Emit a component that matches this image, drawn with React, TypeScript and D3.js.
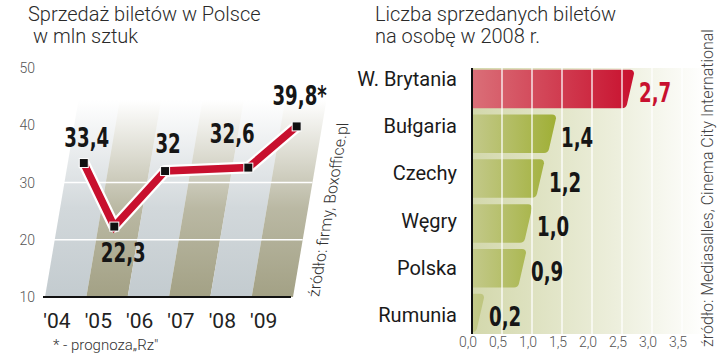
import { useEffect, useRef } from 'react'
import * as d3 from 'd3'

// left chart: ticket sales in Poland, mln
const years = ["'04", "'05", "'06", "'07", "'08", "'09"]
const sales: (number | null)[] = [33.4, 22.3, 32, null, 32.6, 39.8]
const salesMarks = ['', '', '', '', '', '*']
const yTicks = [10, 20, 30, 40, 50]

// right chart: tickets per person, 2008
const countries = ['W. Brytania', 'Bułgaria', 'Czechy', 'Węgry', 'Polska', 'Rumunia']
const perPerson = [2.7, 1.4, 1.2, 1.0, 0.9, 0.2]
const xTicks = [0, 0.5, 1, 1.5, 2, 2.5, 3, 3.5]

export default function App() {
  const svgRef = useRef<SVGSVGElement>(null)

  useEffect(() => {
    const svg = d3.select(svgRef.current)
    svg.selectAll('*').remove()

    const W = 720
    const H = 364
    svg.attr('width', W).attr('height', H)

    const pl = d3.formatLocale({ decimal: ',', thousands: ' ', grouping: [3], currency: ['', ' zł'] })
    const fmtTrim = pl.format('.3~')
    const fmt1 = pl.format('.1f')

    const light = "Roboto, 'Open Sans', sans-serif"
    const bold = "'DejaVu Sans', sans-serif"
    const squeeze = 0.7

    svg.append('rect').attr('width', W).attr('height', H).attr('fill', '#fff')
    const defs = svg.append('defs')

    // ---------- left: line chart ----------
    const axisY = 297
    const skew = 0.17
    const bandTop = 100
    const y = d3.scaleLinear().domain([10, 50]).range([axisY, 68])
    const xb = d3.scaleBand<string>().domain(years).range([45, 293])
    const lift = (py: number) => (axisY - py) * skew

    const bandColors = ['#c3cbcf', '#a3a185']
    bandColors.forEach((c, i) => {
      const g = defs.append('linearGradient')
        .attr('id', `band${i}`)
        .attr('gradientUnits', 'userSpaceOnUse')
        .attr('x1', 0).attr('x2', 0)
        .attr('y1', axisY).attr('y2', bandTop)
      g.append('stop').attr('offset', '0%').attr('stop-color', c).attr('stop-opacity', 1)
      g.append('stop').attr('offset', '45%').attr('stop-color', c).attr('stop-opacity', 0.75)
      g.append('stop').attr('offset', '100%').attr('stop-color', c).attr('stop-opacity', 0)
    })

    const left = svg.append('g')
    left.selectAll('.band')
      .data(years)
      .enter()
      .append('path')
      .attr('class', 'band')
      .attr('fill', (_, i) => `url(#band${i % 2})`)
      .attr('d', (d) => {
        const x0 = xb(d)!
        const x1 = x0 + xb.bandwidth()
        const s = lift(bandTop)
        return `M${x0},${axisY}L${x1},${axisY}L${x1 + s},${bandTop}L${x0 + s},${bandTop}Z`
      })

    // grid lines
    left.selectAll('.grid')
      .data([20, 30])
      .enter()
      .append('line')
      .attr('x1', 45)
      .attr('x2', (d) => 293 + lift(y(d)))
      .attr('y1', (d) => y(d))
      .attr('y2', (d) => y(d))
      .attr('stroke', '#fff')
      .attr('stroke-width', 1.5)

    // axis base
    left.append('line')
      .attr('x1', 43).attr('x2', 291)
      .attr('y1', axisY).attr('y2', axisY)
      .attr('stroke', '#111').attr('stroke-width', 2)

    // y tick labels
    left.selectAll('.ytick')
      .data(yTicks)
      .enter()
      .append('text')
      .attr('x', 35)
      .attr('y', (d) => y(d) + 5)
      .attr('text-anchor', 'end')
      .attr('fill', '#555')
      .style('font-family', light)
      .style('font-weight', 300)
      .style('font-size', '14px')
      .text((d) => d)

    // x labels
    left.selectAll('.xtick')
      .data(years)
      .enter()
      .append('text')
      .attr('x', (d) => xb(d)! + 12)
      .attr('y', 328)
      .attr('text-anchor', 'middle')
      .attr('fill', '#222')
      .style('font-family', light)
      .style('font-size', '21px')
      .text((d) => d)

    const pts = years
      .map((yr, i) => ({ yr, v: sales[i], mark: salesMarks[i] }))
      .filter((d) => d.v != null) as { yr: string; v: number; mark: string }[]
    const px = (d: { yr: string; v: number }) => xb(d.yr)! + 16 + lift(y(d.v))
    const py = (d: { v: number }) => y(d.v)

    const lineGen = d3.line<{ yr: string; v: number }>().x(px).y(py)

    left.append('path')
      .datum(pts)
      .attr('fill', 'none')
      .attr('stroke', '#fff')
      .attr('stroke-width', 12)
      .attr('stroke-linejoin', 'round')
      .attr('d', lineGen)
    left.append('path')
      .datum(pts)
      .attr('fill', 'none')
      .attr('stroke', '#c8102e')
      .attr('stroke-width', 7.5)
      .attr('stroke-linejoin', 'miter')
      .attr('d', lineGen)

    left.selectAll('.marker')
      .data(pts)
      .enter()
      .append('rect')
      .attr('x', (d) => px(d) - 4.5)
      .attr('y', (d) => py(d) - 4.5)
      .attr('width', 9)
      .attr('height', 9)
      .attr('fill', '#111')
      .attr('stroke', '#fff')
      .attr('stroke-width', 1)

    // value label offsets (dx, dy) from the marker
    const labelOffsets = [[3, -16], [9, 35], [3, -18], [-16, -25], [3, -21]]
    left.selectAll('.val')
      .data(pts)
      .enter()
      .append('text')
      .attr('transform', (d, i) =>
        `translate(${px(d) + labelOffsets[i][0]},${py(d) + labelOffsets[i][1]}) scale(${squeeze},1)`)
      .attr('text-anchor', 'middle')
      .attr('fill', '#161616')
      .style('font-family', bold)
      .style('font-weight', 700)
      .style('font-size', '26px')
      .text((d) => fmtTrim(d.v) + d.mark)

    // source (slanted with perspective)
    left.append('text')
      .attr('transform', `translate(319,${axisY}) skewX(-9.6) rotate(-90)`)
      .attr('fill', '#333')
      .style('font-family', light)
      .style('font-weight', 300)
      .style('font-size', '16px')
      .text('źródło: firmy, Boxoffice.pl')

    // titles
    const titles = svg.append('g')
      .attr('fill', '#2a2a2a')
      .style('font-family', light)
      .style('font-weight', 300)
      .style('font-size', '20px')
    titles.append('text').attr('x', 28).attr('y', 21).text('Sprzedaż biletów w Polsce')
    titles.append('text').attr('x', 33).attr('y', 43).text('w mln sztuk')
    titles.append('text').attr('x', 375).attr('y', 21).text('Liczba sprzedanych biletów')
    titles.append('text').attr('x', 375).attr('y', 43).text('na osobę w 2008 r.')

    svg.append('text')
      .attr('x', 53).attr('y', 350)
      .attr('fill', '#333')
      .style('font-family', light)
      .style('font-weight', 300)
      .style('font-size', '15px')
      .text('* - prognoza„Rz"')

    // ---------- right: bar chart ----------
    const x = d3.scaleLinear().domain([0, 3.5]).range([472, 682])
    const yb = d3.scaleBand<string>()
      .domain(countries)
      .range([68, 334])
      .paddingInner(0.14)
      .paddingOuter(0.04)
    const labelY = d3.scalePoint<string>().domain(countries).range([86, 322])

    const bg = defs.append('linearGradient').attr('id', 'plotbg')
      .attr('gradientUnits', 'userSpaceOnUse')
      .attr('x1', 472).attr('x2', 706).attr('y1', 0).attr('y2', 0)
    bg.append('stop').attr('offset', '0%').attr('stop-color', '#d3d8ac')
    bg.append('stop').attr('offset', '60%').attr('stop-color', '#eceedb')
    bg.append('stop').attr('offset', '100%').attr('stop-color', '#ffffff')

    const green = defs.append('linearGradient').attr('id', 'green')
      .attr('gradientUnits', 'userSpaceOnUse')
      .attr('x1', 472).attr('x2', 560).attr('y1', 0).attr('y2', 0)
    green.append('stop').attr('offset', '0%').attr('stop-color', '#c3c98a')
    green.append('stop').attr('offset', '100%').attr('stop-color', '#9eae32')

    const red = defs.append('linearGradient').attr('id', 'red')
      .attr('gradientUnits', 'userSpaceOnUse')
      .attr('x1', 472).attr('x2', 636).attr('y1', 0).attr('y2', 0)
    red.append('stop').attr('offset', '0%').attr('stop-color', '#da6f78')
    red.append('stop').attr('offset', '100%').attr('stop-color', '#c8102e')

    const right = svg.append('g')
    right.append('rect')
      .attr('x', x(0)).attr('y', 68)
      .attr('width', 706 - x(0)).attr('height', 334 - 68)
      .attr('fill', 'url(#plotbg)')

    const barPath = (x0: number, x1: number, y0: number, y1: number) => {
      const s = 8
      const r = Math.min(4, (x1 - x0) / 3)
      return `M${x0},${y0}L${x1 - r},${y0}Q${x1},${y0} ${x1},${y0 + r}` +
        `L${x1 - s + 1},${y1 - r}Q${x1 - s},${y1} ${x1 - s - r},${y1}L${x0},${y1}Z`
    }

    right.selectAll('.bar')
      .data(countries)
      .enter()
      .append('path')
      .attr('fill', (_, i) => (i === 0 ? 'url(#red)' : 'url(#green)'))
      .attr('d', (d, i) => barPath(x(0), x(perPerson[i]), yb(d)!, yb(d)! + yb.bandwidth()))

    right.selectAll('.vgrid')
      .data(xTicks.slice(1))
      .enter()
      .append('line')
      .attr('x1', (d) => x(d)).attr('x2', (d) => x(d))
      .attr('y1', 68).attr('y2', 334)
      .attr('stroke', '#fff')
      .attr('stroke-opacity', 0.85)
      .attr('stroke-width', 1.5)

    right.append('line')
      .attr('x1', x(0)).attr('x2', x(0))
      .attr('y1', 68).attr('y2', 334)
      .attr('stroke', '#111').attr('stroke-width', 2)

    right.selectAll('.cat')
      .data(countries)
      .enter()
      .append('text')
      .attr('x', 457)
      .attr('y', (d) => labelY(d)!)
      .attr('text-anchor', 'end')
      .attr('fill', '#1a1a1a')
      .style('font-family', light)
      .style('font-size', '20px')
      .text((d) => d)

    right.selectAll('.bval')
      .data(countries)
      .enter()
      .append('text')
      .attr('transform', (d, i) =>
        `translate(${x(perPerson[i]) + 5},${yb(d)! + yb.bandwidth() / 2 + 13}) scale(${squeeze},1)`)
      .attr('fill', (_, i) => (i === 0 ? '#c8102e' : '#161616'))
      .style('font-family', bold)
      .style('font-weight', 700)
      .style('font-size', '26px')
      .text((_, i) => fmt1(perPerson[i]))

    right.selectAll('.xtick')
      .data(xTicks)
      .enter()
      .append('text')
      .attr('x', (d) => x(d) - 4)
      .attr('y', 347)
      .attr('text-anchor', 'middle')
      .attr('fill', '#555')
      .style('font-family', light)
      .style('font-weight', 300)
      .style('font-size', '14px')
      .text((d) => fmt1(d))

    right.append('text')
      .attr('transform', 'translate(713,347) rotate(-90)')
      .attr('fill', '#444')
      .style('font-family', light)
      .style('font-weight', 300)
      .style('font-size', '16px')
      .text('źródło: Mediasalles, Cinema City International')
  }, [])

  return (
    <div style={{ position: 'absolute', left: 0, top: 0 }}>
      <svg ref={svgRef} style={{ display: 'block' }} />
    </div>
  )
}
